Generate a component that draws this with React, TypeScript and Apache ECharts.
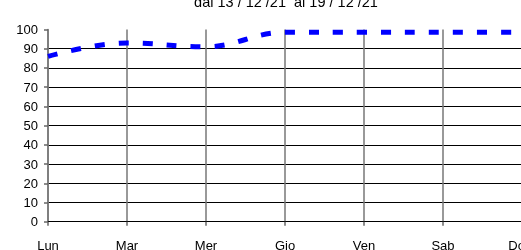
import React, { useEffect, useRef } from "react";
import * as echarts from "echarts";

const categories = ["Lun", "Mar", "Mer", "Gio", "Ven", "Sab", "Dom"];
const values = [86, 93, 91, 98.6, 98.6, 98.6, 98.6];
const titleText = "dal 13 / 12 /21  al 19 / 12 /21";

export default function App() {
  const ref = useRef<HTMLDivElement>(null);
  useEffect(() => {
    const chart = echarts.init(ref.current!, null, { renderer: "svg" });
    chart.setOption({
      animation: false,
      title: {
        text: titleText,
        left: 281,
        textAlign: "center",
        top: -11,
        textStyle: { fontFamily: "Liberation Sans", fontSize: 14.5, fontWeight: "normal", color: "#000" },
      },
      grid: { left: 48, top: 29.5, width: 474, height: 192.2, containLabel: false, outerBoundsMode: "none" },
      xAxis: {
        type: "category",
        data: categories,
        boundaryGap: false,
        axisLine: { show: true, lineStyle: { color: "#000", width: 1 } },
        axisTick: { show: true, length: 4, lineStyle: { color: "#666", width: 1.5 } },
        axisLabel: { margin: 17, fontFamily: "Liberation Sans", fontSize: 13, color: "#000" },
        splitLine: { show: true, lineStyle: { color: "#777", width: 1.5 } },
      },
      yAxis: {
        type: "value",
        min: 0,
        max: 100,
        interval: 10,
        axisLine: { show: true, lineStyle: { color: "#777", width: 1.5 } },
        axisTick: { show: true, length: 4, lineStyle: { color: "#666", width: 1.5 } },
        axisLabel: { margin: 10, fontFamily: "Liberation Sans", fontSize: 13, color: "#000" },
        splitLine: { show: true, showMaxLine: false, lineStyle: { color: "#000", width: 1 } },
      },
      series: [
        {
          type: "line",
          data: values,
          smooth: 0.4,
          symbol: "none",
          lineStyle: { color: "#0000ff", width: 5, type: [10, 14] },
        },
      ],
    });
    return () => chart.dispose();
  }, []);
  return <div ref={ref} style={{ position: "fixed", left: 0, top: 0, width: 521, height: 250 }} />;
}
